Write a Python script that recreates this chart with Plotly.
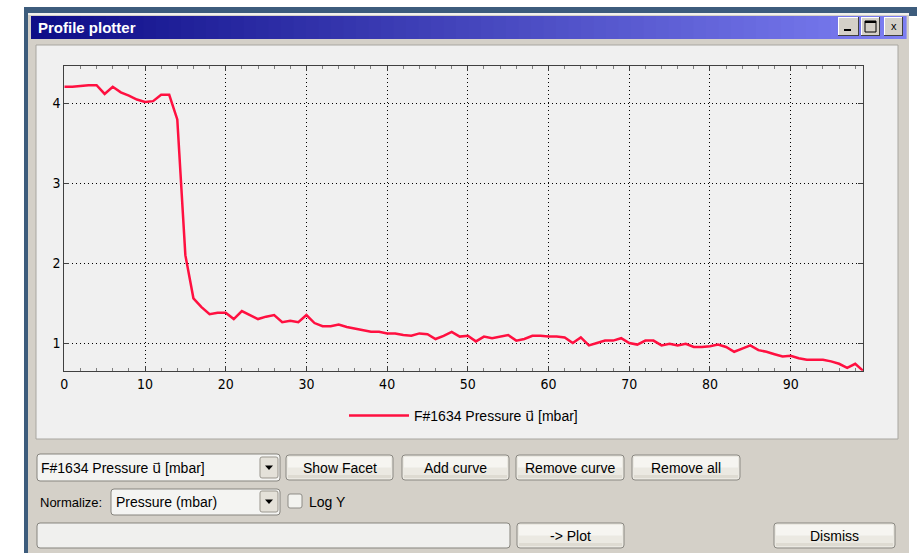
import plotly.graph_objects as go

# ---------------- data ----------------
pressure = [4.21, 4.21, 4.22, 4.23, 4.23, 4.12, 4.21, 4.14, 4.10, 4.05,
            4.02, 4.03, 4.11, 4.11, 3.80, 2.10, 1.56, 1.45, 1.36, 1.38,
            1.38, 1.30, 1.40, 1.35, 1.30, 1.33, 1.35, 1.26, 1.28, 1.26,
            1.35, 1.25, 1.21, 1.21, 1.23, 1.20, 1.18, 1.16, 1.14, 1.14,
            1.12, 1.12, 1.10, 1.09, 1.12, 1.11, 1.05, 1.09, 1.14, 1.08,
            1.09, 1.02, 1.08, 1.06, 1.08, 1.10, 1.03, 1.05, 1.09, 1.09,
            1.08, 1.08, 1.07, 1.00, 1.07, 0.97, 1.00, 1.03, 1.03, 1.06,
            1.00, 0.98, 1.03, 1.03, 0.97, 0.99, 0.97, 0.99, 0.95, 0.95,
            0.96, 0.98, 0.95, 0.89, 0.93, 0.97, 0.91, 0.89, 0.86, 0.83,
            0.84, 0.81, 0.79, 0.79, 0.79, 0.77, 0.74, 0.69, 0.74, 0.65]
position = list(range(len(pressure)))
U_VEC = "<span style=\"font-family:'DejaVu Sans'\">u\u20d7</span>"
series_name = "F#1634 Pressure " + U_VEC + " [mbar]"
x_ticks = [0, 10, 20, 30, 40, 50, 60, 70, 80, 90]
y_ticks = [1, 2, 3, 4]

# ---------------- geometry helpers ----------------
W, H = 917, 553
def px(x): return x / W
def py(y): return 1 - y / H

shapes = []
annots = []

def rect(x0, y0, x1, y1, fill, line=None, lw=0, layer="below"):
    shapes.append(dict(type="rect", xref="paper", yref="paper",
                       x0=px(x0), x1=px(x1), y0=py(y1), y1=py(y0),
                       fillcolor=fill, line=dict(width=lw, color=line or fill),
                       layer=layer))

def rrect(x0, y0, x1, y1, fill, line, r=3, lw=1):
    def P(x, y): return f"{px(x):.6f},{py(y):.6f}"
    d = (f"M{P(x0+r, y0)} L{P(x1-r, y0)} Q{P(x1, y0)} {P(x1, y0+r)} "
         f"L{P(x1, y1-r)} Q{P(x1, y1)} {P(x1-r, y1)} L{P(x0+r, y1)} "
         f"Q{P(x0, y1)} {P(x0, y1-r)} L{P(x0, y0+r)} Q{P(x0, y0)} {P(x0+r, y0)} Z")
    shapes.append(dict(type="path", xref="paper", yref="paper", path=d,
                       fillcolor=fill, line=dict(width=lw, color=line), layer="below"))

def poly(points, fill):
    d = "M" + " L".join(f"{px(x):.6f},{py(y):.6f}" for x, y in points) + " Z"
    shapes.append(dict(type="path", xref="paper", yref="paper", path=d,
                       fillcolor=fill, line=dict(width=0), layer="below"))

def text(x, y, s, size=14, color="black", anchor="left", bold=False, family="Liberation Sans, DejaVu Sans"):
    annots.append(dict(xref="paper", yref="paper", x=px(x), y=py(y), text=f"<b>{s}</b>" if bold else s,
                       showarrow=False, xanchor=anchor, yanchor="middle",
                       font=dict(size=size, color=color, family=family)))

def button(x0, y0, x1, y1, label):
    rrect(x0, y0, x1, y1, "#ebe9e2", "#8a8882", r=3)
    rect(x0 + 2, y0 + 2, x1 - 2, (y0 + y1) / 2, "#f6f5f1")
    rect(x0 + 2, y1 - 5, x1 - 2, y1 - 2, "#dedbd2")
    text((x0 + x1) / 2, (y0 + y1) / 2, label, size=14, anchor="center")

def dropdown_arrow(x0, y0, x1, y1):
    rrect(x0, y0, x1, y1, "#e4e1d9", "#9a978f", r=2)
    cx, cy = (x0 + x1) / 2, (y0 + y1) / 2
    poly([(cx - 4, cy - 2), (cx + 4, cy - 2), (cx, cy + 2.5)], "black")

# ---------------- window chrome ----------------
rect(0, 0, W, H, "white")
rect(24, 7, W, 16, "#3d5c7c")               # outer dark band
rect(24, 7, 28, H, "#3d5c7c")               # left dark edge
rect(28, 13, 909, H, "#d4d0c8")             # window body
rect(28, 13, 909, 15, "#f2f1ed")
# title bar gradient
c0, c1 = (14, 14, 136), (124, 126, 242)
x_start, x_end, n = 31, 906, 70
for i in range(n):
    t = i / (n - 1)
    col = "rgb(%d,%d,%d)" % tuple(int(a + (b - a) * t) for a, b in zip(c0, c1))
    xa = x_start + (x_end - x_start) * i / n
    xb = x_start + (x_end - x_start) * (i + 1) / n + 0.6
    rect(xa, 16, xb, 39, col)
text(36, 27.5, "Profile plotter", size=15, color="white", bold=True)
# title bar buttons
for bx0, bx1 in [(838, 859), (861, 880), (884, 903)]:
    rect(bx0, 17, bx1, 36, "#d4d0c8", "#ffffff", 0)
    rect(bx0, 17, bx1, 18, "#ffffff")
    rect(bx0, 17, bx0 + 1, 36, "#ffffff")
    rect(bx0, 35, bx1, 36, "#404040")
    rect(bx1 - 1, 17, bx1, 36, "#404040")
rect(844, 29, 851, 31, "black")
rect(865, 21, 876, 32, "rgba(0,0,0,0)", "black", 1)
rect(865, 21, 876, 23, "black")
text(893.5, 26.5, "x", size=11, anchor="center")

# plot panel
rect(36, 45, 898, 439, "#f0f0f0", "#a8a6a0", 1)

# ---------------- controls ----------------
rrect(37, 454, 280, 481, "#f4f4f2", "#86847e", r=3)
text(39, 467.5, series_name, size=14)
dropdown_arrow(260, 457, 278, 478)
button(286, 455, 393, 480, "Show Facet")
button(402, 455, 509, 480, "Add curve")
button(516, 455, 624, 480, "Remove curve")
button(632, 455, 740, 480, "Remove all")

text(38, 502.5, "Normalize:", size=13)
rrect(111, 489, 280, 515, "#f4f4f2", "#86847e", r=3)
text(114, 501.5, "Pressure (mbar)", size=14)
dropdown_arrow(260, 491, 278, 512)
rrect(288, 494, 302, 508, "#f3f3ef", "#8e8c86", r=2)
text(307, 501.5, "Log Y", size=14)

rrect(37, 523, 510, 548, "#f0f0ee", "#86847e", r=3)
button(517, 523, 624, 548, "-&gt; Plot")
button(774, 523, 895, 548, "Dismiss")

# ---------------- chart ----------------
fig = go.Figure()
fig.add_trace(go.Scatter(x=position, y=pressure, mode="lines", name=series_name,
                         line=dict(color="#ff1040", width=2.5)))

axis_font = dict(family="Liberation Sans Narrow, DejaVu Sans Condensed, Liberation Sans", size=14, color="black")
fig.update_layout(
    width=W, height=H,
    margin=dict(l=0, r=0, t=0, b=0),
    paper_bgcolor="white",
    plot_bgcolor="rgba(0,0,0,0)",
    shapes=shapes,
    annotations=annots,
    showlegend=True,
    legend=dict(x=px(344), y=py(416), xanchor="left", yanchor="middle",
                bgcolor="rgba(0,0,0,0)", font=dict(family="Liberation Sans, DejaVu Sans", size=14, color="black"),
                itemwidth=60),
    xaxis=dict(domain=[px(64.3), px(863.3)], range=[0, 99], tickvals=x_ticks,
               showline=True, mirror="ticks", linecolor="#404040", linewidth=1,
               ticks="inside", ticklen=5, tickcolor="#404040",
               minor=dict(dtick=2, tick0=0, ticks="inside", ticklen=3, tickcolor="#808080", showgrid=False),
               showgrid=True, gridcolor="black", gridwidth=1, griddash="1px,3px",
               zeroline=False, tickfont=axis_font, automargin=False, fixedrange=True),
    yaxis=dict(domain=[py(370.7), py(66)], range=[0.653, 4.47], tickvals=y_ticks,
               showline=True, mirror="ticks", linecolor="#404040", linewidth=1,
               ticks="inside", ticklen=5, tickcolor="#404040",
               showgrid=True, gridcolor="black", gridwidth=1, griddash="1px,3px",
               zeroline=False, tickfont=axis_font, automargin=False, fixedrange=True),
)

fig.write_html("out.html", config={"displayModeBar": False},
               post_script="document.body.style.margin='0';document.body.style.overflow='hidden';")
